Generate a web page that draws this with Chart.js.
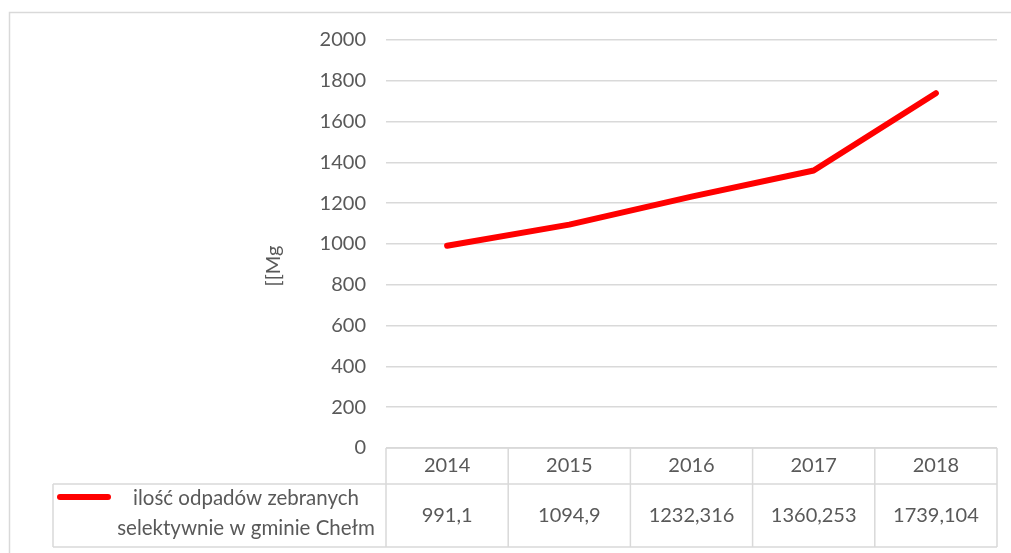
<!DOCTYPE html>
<html>
<head>
<meta charset="utf-8">
<script src="https://cdn.jsdelivr.net/npm/chart.js@4.4.1/dist/chart.umd.min.js"></script>
<style>
    body { margin: 0; background: #fff; }
    #wrap { position: relative; width: 1011px; height: 553px; }
</style>
</head>
<body>
<div id="wrap"><canvas id="wasteChart"></canvas></div>
<script>
// dane z wykresu
const years = ['2014', '2015', '2016', '2017', '2018'];
const wasteValues = [991.1, 1094.9, 1232.316, 1360.253, 1739.104];
const seriesLabel = ['ilość odpadów zebranych', 'selektywnie w gminie Chełm'];
const axisTitle = '[[Mg';

const gridColor = '#d9d9d9';
const textColor = '#595959';
const fontFamily = 'Lato, "Open Sans", sans-serif';

// tabela danych pod wykresem (jak w Excelu)
const dataTable = {
    id: 'dataTable',
    afterDraw(chart) {
        const { ctx, chartArea: { left, right, bottom } } = chart;
        const x = chart.scales.x;
        const row1 = bottom + 36;
        const row2 = bottom + 99;
        const legendLeft = 53;
        ctx.save();
        ctx.strokeStyle = gridColor;
        ctx.lineWidth = 1.5;

        // ramka całego wykresu
        ctx.strokeRect(9.5, 12.5, 1010, 560);

        ctx.beginPath();
        ctx.moveTo(left, bottom); ctx.lineTo(right, bottom);
        ctx.moveTo(legendLeft, row1); ctx.lineTo(right, row1);
        ctx.moveTo(legendLeft, row2); ctx.lineTo(right, row2);
        ctx.moveTo(legendLeft, row1); ctx.lineTo(legendLeft, row2);
        ctx.moveTo(left, bottom); ctx.lineTo(left, row2);
        const colW = (right - left) / years.length;
        for (let i = 0; i < years.length; i++) {
            const edge = x.getPixelForValue(i) + colW / 2;
            ctx.moveTo(edge, bottom); ctx.lineTo(edge, row2);
        }
        ctx.stroke();

        ctx.fillStyle = textColor;
        ctx.font = '20px ' + fontFamily;
        ctx.textAlign = 'center';
        ctx.textBaseline = 'middle';
        years.forEach((y, i) => {
            const cx = x.getPixelForValue(i);
            ctx.fillText(y, cx, (bottom + row1) / 2);
            ctx.fillText(String(wasteValues[i]).replace('.', ','), cx, (row1 + row2) / 2);
        });

        // legenda
        ctx.font = '20.5px ' + fontFamily;
        ctx.fillText(seriesLabel[0], 246, row1 + 14);
        ctx.fillText(seriesLabel[1], 246, row1 + 44);
        ctx.strokeStyle = '#ff0000';
        ctx.lineWidth = 6;
        ctx.lineCap = 'round';
        ctx.beginPath();
        ctx.moveTo(60, row1 + 13);
        ctx.lineTo(108, row1 + 13);
        ctx.stroke();

        // tytuł osi Y
        ctx.fillStyle = textColor;
        ctx.font = '20px ' + fontFamily;
        ctx.translate(274, 266);
        ctx.rotate(-Math.PI / 2);
        ctx.fillText(axisTitle, 0, 0);
        ctx.restore();
    }
};

new Chart(document.getElementById('wasteChart'), {
    type: 'line',
    data: {
        labels: years,
        datasets: [{
            label: seriesLabel.join(' '),
            data: wasteValues,
            borderColor: '#ff0000',
            borderWidth: 6,
            borderCapStyle: 'round',
            borderJoinStyle: 'round',
            pointRadius: 0,
            tension: 0
        }]
    },
    options: {
        responsive: true,
        maintainAspectRatio: false,
        animation: false,
        layout: {
            padding: { top: 40, bottom: 105, right: 14, left: 0 }
        },
        scales: {
            x: {
                display: false,
                offset: true
            },
            y: {
                min: 0,
                max: 2000,
                afterFit(scale) { scale.width = 386; },
                ticks: {
                    stepSize: 200,
                    padding: 20,
                    color: textColor,
                    font: { family: fontFamily, size: 20 },
                    callback: (v) => String(v)
                },
                grid: {
                    color: gridColor,
                    lineWidth: 1.5,
                    drawTicks: false
                },
                border: { display: false }
            }
        },
        plugins: {
            legend: { display: false },
            tooltip: { enabled: false }
        }
    },
    plugins: [dataTable]
});
</script>
</body>
</html>
